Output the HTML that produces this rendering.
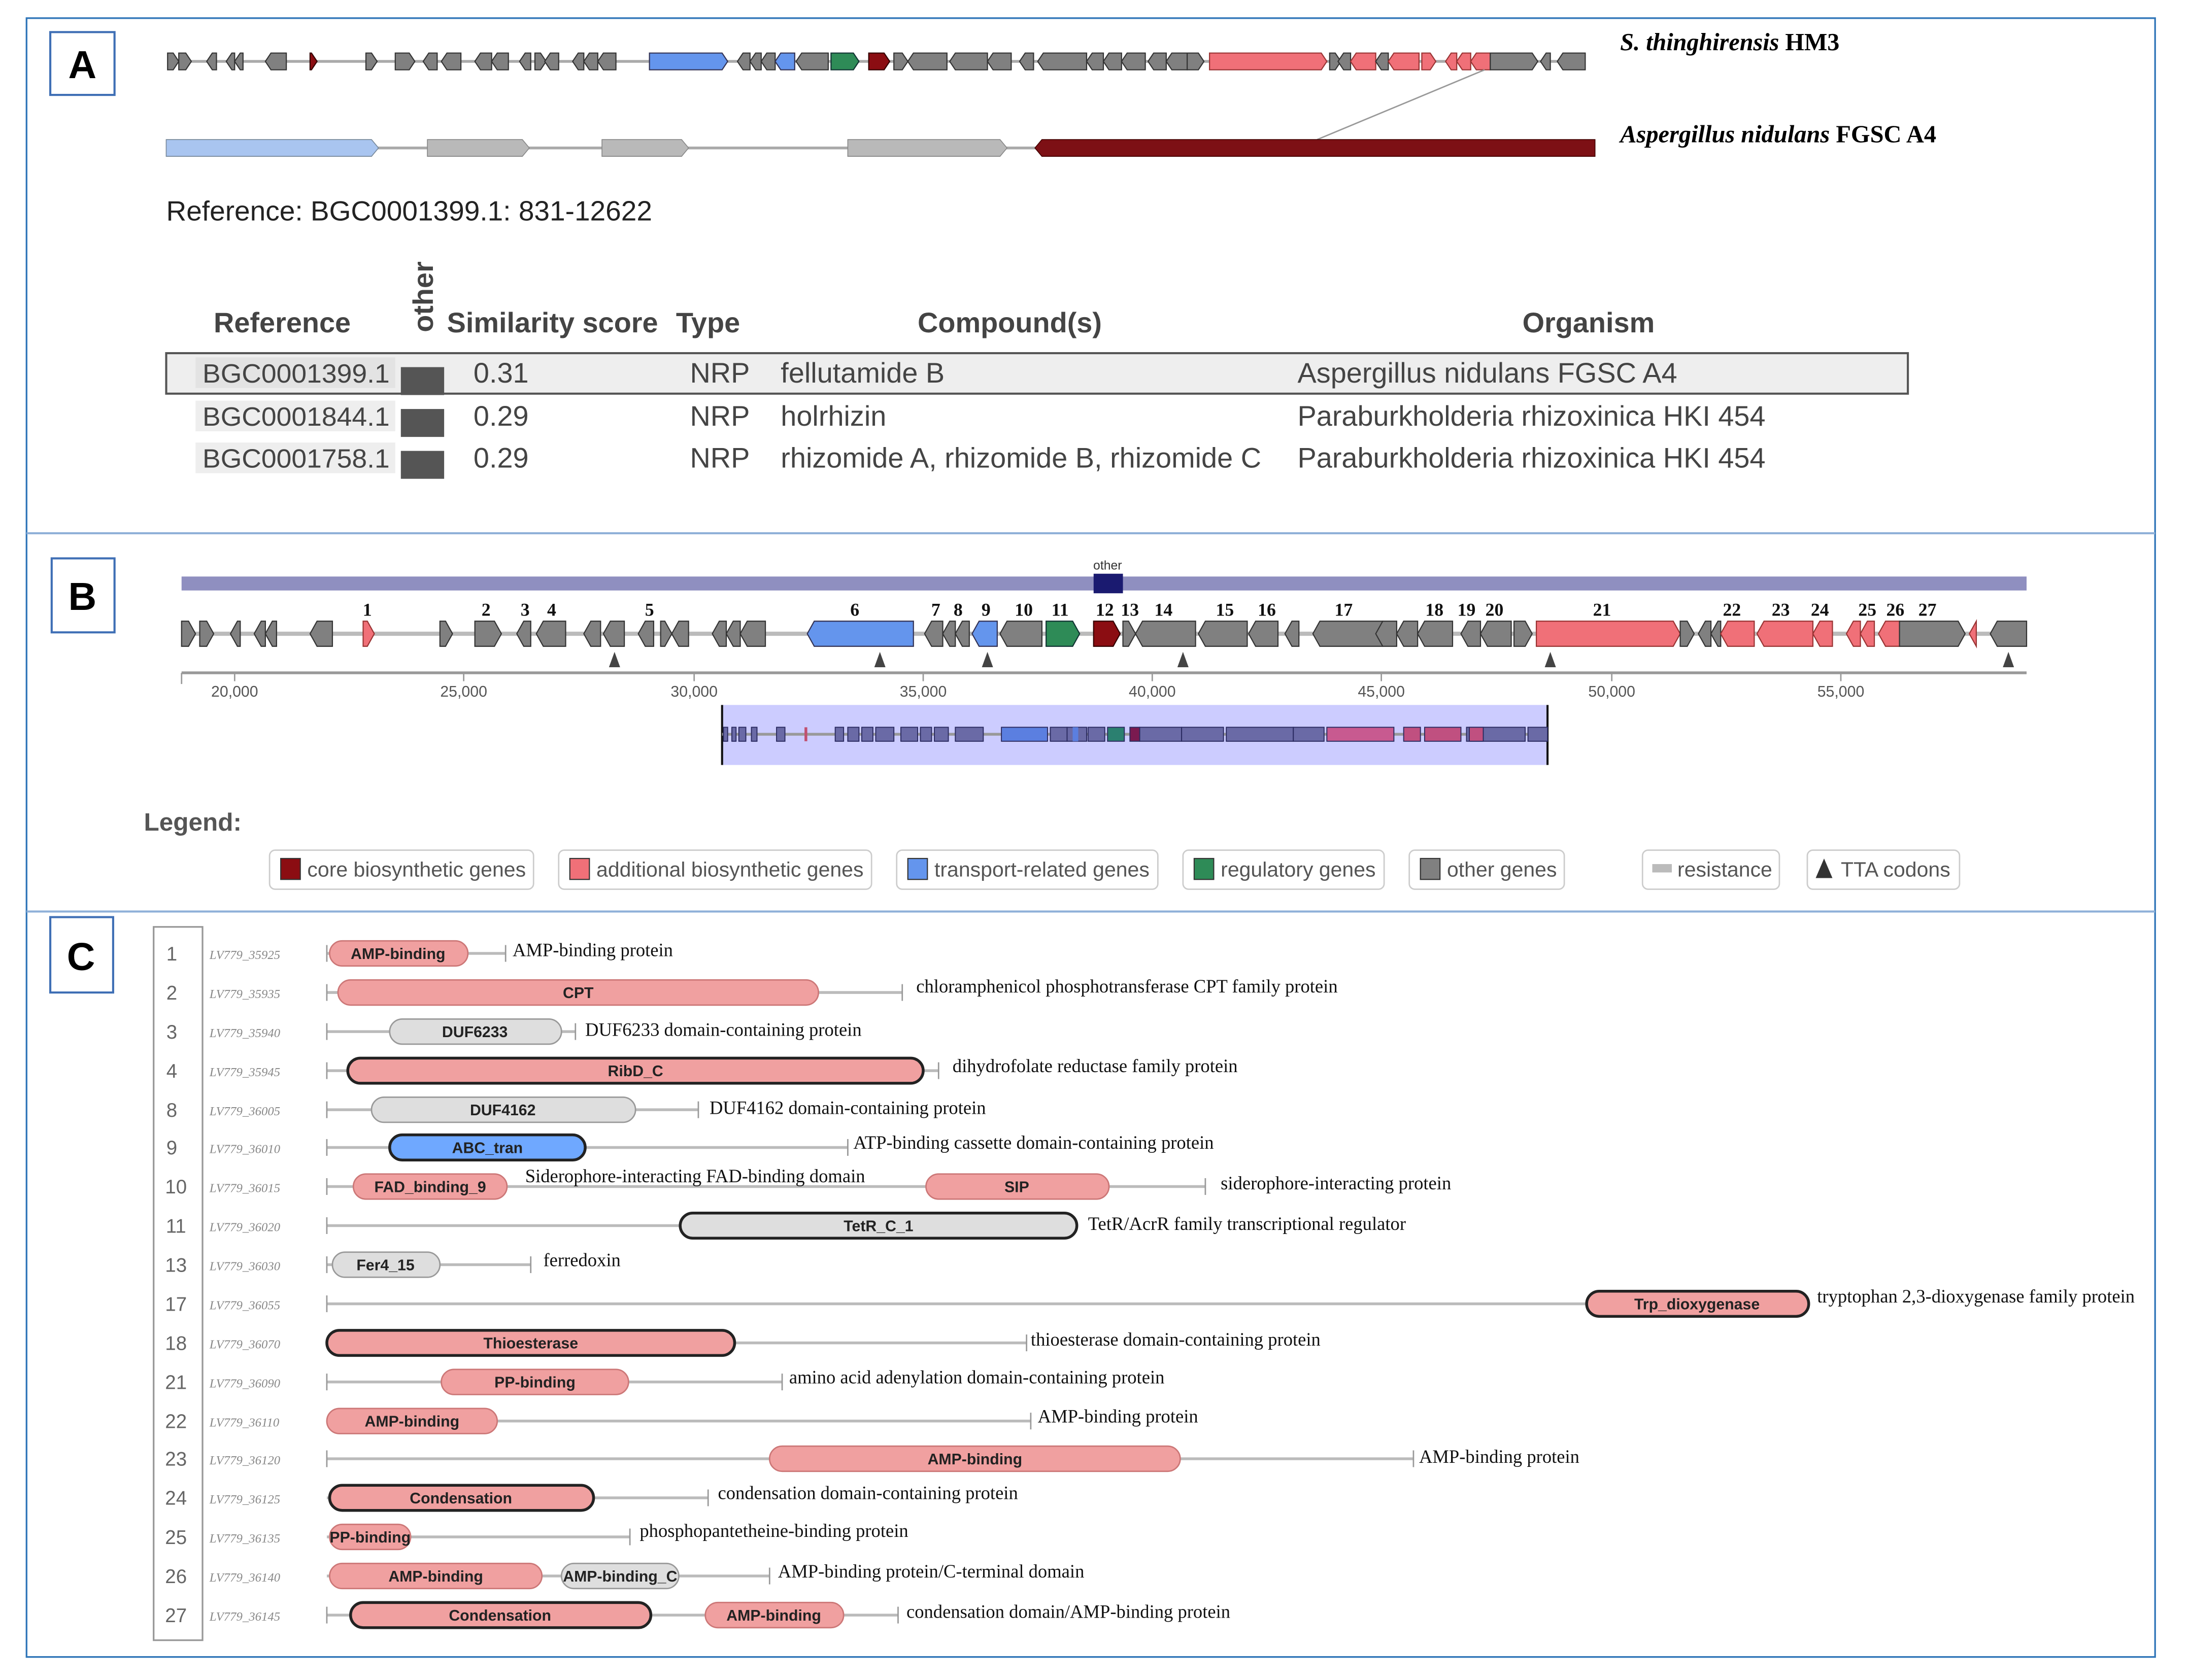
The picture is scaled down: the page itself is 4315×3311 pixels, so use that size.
<!DOCTYPE html>
<html><head><meta charset="utf-8"><style>
html,body{margin:0;padding:0;background:#fff;}
svg{display:block;}
.g{fill:#808080;stroke:#333;stroke-width:.8}
.p{fill:#f07078;stroke:#933;stroke-width:.8}
.bl{fill:#6495ed;stroke:#335;stroke-width:.8}
.gr{fill:#2e8b57;stroke:#133;stroke-width:.8}
.dr{fill:#8b0d12;stroke:#300;stroke-width:.8}
.sans{font-family:"Liberation Sans",Arial,sans-serif}
.ser{font-family:"Liberation Serif","Times New Roman",serif}
.pk{fill:#f0a0a0;stroke:#c77;stroke-width:1}
.pkb{fill:#f0a0a0;stroke:#222;stroke-width:2}
.gy{fill:#dedede;stroke:#999;stroke-width:1}
.gyb{fill:#dedede;stroke:#222;stroke-width:2}
.bb{fill:#6fa8ff;stroke:#222;stroke-width:2}
.dl{font:bold 11px "Liberation Sans",Arial,sans-serif;fill:#222;text-anchor:middle}
.ds{font:13.3px "Liberation Serif",serif;fill:#111}
.ln{stroke:#bbb;stroke-width:2}
.rn{font:14px "Liberation Sans",sans-serif;fill:#666;text-anchor:middle}
.lt{font:italic 9px "Liberation Serif",serif;fill:#888}
.lg{fill:#fff;stroke:#ccc;stroke-width:1}
.lgt{font:14.9px "Liberation Sans",sans-serif;fill:#555}
.nb{font:bold 13px "Liberation Serif",serif;fill:#111;text-anchor:middle}
.th{font:bold 20.3px "Liberation Sans",sans-serif;fill:#444}
.td{font:20.3px "Liberation Sans",sans-serif;fill:#444}
.bgc{font:19px "Liberation Sans",sans-serif;fill:#444}
</style></head><body>
<svg width="4315" height="3311" viewBox="0 0 1568 1203.5" preserveAspectRatio="none" xmlns="http://www.w3.org/2000/svg">
<rect width="1568" height="1204" fill="#fff"/>
<!-- frame -->
<rect x="19" y="13" width="1524" height="1174" fill="none" stroke="#2f75b8" stroke-width="1.2"/>
<line x1="19" y1="382" x2="1543" y2="382" stroke="#8fb0d8" stroke-width="1.5"/>
<line x1="19" y1="653" x2="1543" y2="653" stroke="#8fb0d8" stroke-width="1.5"/>
<rect x="36" y="23" width="46" height="45" fill="#fff" stroke="#3f6fb5" stroke-width="1.5"/>
<text x="59" y="56" class="sans" font-size="28" font-weight="bold" text-anchor="middle">A</text>
<rect x="37" y="400" width="45" height="53" fill="#fff" stroke="#3f6fb5" stroke-width="1.5"/>
<text x="59" y="437" class="sans" font-size="28" font-weight="bold" text-anchor="middle">B</text>
<rect x="36" y="657" width="45" height="54" fill="#fff" stroke="#3f6fb5" stroke-width="1.5"/>
<text x="58" y="695" class="sans" font-size="28" font-weight="bold" text-anchor="middle">C</text>

<!-- A top track -->
<line x1="120" y1="44" x2="1135" y2="44" stroke="#aaa" stroke-width="2"/>
<g>
<path class="g" d="M120 38H124l4 6l-4 6H120Z"/><path class="g" d="M128 38H133l4 6l-4 6H128Z"/>
<path class="g" d="M155 38H152l-4 6l4 6H155Z"/><path class="g" d="M168 38H166l-4 6l4 6H168Z"/><path class="g" d="M174 38H172l-4 6l4 6H174Z"/>
<path class="g" d="M205 38H194l-4 6l4 6H205Z"/><path class="dr" d="M222 38H223l4 6l-4 6H222Z"/>
<path class="g" d="M262 38H266l4 6l-4 6H262Z"/><path class="g" d="M283 38H293l4 6l-4 6H283Z"/>
<path class="g" d="M313 38H307l-4 6l4 6H313Z"/><path class="g" d="M330 38H320l-4 6l4 6H330Z"/>
<path class="g" d="M352 38H344l-4 6l4 6H352Z"/><path class="g" d="M364 38H356l-4 6l4 6H364Z"/>
<path class="g" d="M380 38H376l-4 6l4 6H380Z"/><path class="g" d="M383 38H387l4 6l-4 6H383Z"/>
<path class="g" d="M400 38H394l-4 6l4 6H400Z"/><path class="g" d="M418 38H414l-4 6l4 6H418Z"/>
<path class="g" d="M428 38H422l-4 6l4 6H428Z"/><path class="g" d="M441 38H432l-4 6l4 6H441Z"/>
<path class="bl" d="M465 38H517l4 6l-4 6H465Z"/>
<path class="g" d="M537 38H532l-4 6l4 6H537Z"/><path class="g" d="M545 38H541l-4 6l4 6H545Z"/><path class="g" d="M555 38H549l-4 6l4 6H555Z"/>
<path class="bl" d="M569 38H559l-4 6l4 6H569Z"/><path class="g" d="M593 38H574l-4 6l4 6H593Z"/>
<path class="gr" d="M595 38H611l4 6l-4 6H595Z"/><path class="dr" d="M622 38H633l4 6l-4 6H622Z"/>
<path class="g" d="M640 38H646l4 6l-4 6H640Z"/><path class="g" d="M678 38H654l-4 6l4 6H678Z"/>
<path class="g" d="M707 38H684l-4 6l4 6H707Z"/><path class="g" d="M724 38H711l-4 6l4 6H724Z"/>
<path class="g" d="M740 38H734l-4 6l4 6H740Z"/><path class="g" d="M778 38H747l-4 6l4 6H778Z"/>
<path class="g" d="M790 38H782l-4 6l4 6H790Z"/><path class="g" d="M803 38H794l-4 6l4 6H803Z"/>
<path class="g" d="M820 38H807l-4 6l4 6H820Z"/><path class="g" d="M835 38H826l-4 6l4 6H835Z"/>
<path class="g" d="M850 38H839l-4 6l4 6H850Z"/><path class="g" d="M850 38H858l4 6l-4 6H850Z"/>
<path class="p" d="M866 38H946l4 6l-4 6H866Z"/><path class="g" d="M952 38H956l4 6l-4 6H952Z"/>
<path class="g" d="M967 38H962l-4 6l4 6H967Z"/><path class="p" d="M985 38H971l-4 6l4 6H985Z"/>
<path class="g" d="M994 38H989l-4 6l4 6H994Z"/><path class="p" d="M1016 38H998l-4 6l4 6H1016Z"/>
<path class="p" d="M1018 38H1024l4 6l-4 6H1018Z"/><path class="p" d="M1043 38H1039l-4 6l4 6H1043Z"/>
<path class="p" d="M1053 38H1047l-4 6l4 6H1053Z"/><path class="p" d="M1067 38H1057l-4 6l4 6H1067Z"/>
<path class="g" d="M1067 38H1097l4 6l-4 6H1067Z"/><path class="g" d="M1110 38H1107l-4 6l4 6H1110Z"/>
<path class="g" d="M1135 38H1119l-4 6l4 6H1135Z"/>
</g>
<text x="1160" y="36" class="ser" font-size="17.5" font-weight="bold" font-style="italic">S. thinghirensis <tspan font-style="normal">HM3</tspan></text>
<line x1="1063" y1="50" x2="943" y2="100" stroke="#999" stroke-width="1"/>
<!-- A second track -->
<line x1="119" y1="106" x2="1142" y2="106" stroke="#aaa" stroke-width="2"/>
<path d="M119 100H266l5 6l-5 6H119Z" fill="#a9c5f0" stroke="#789" stroke-width=".6"/>
<path d="M306 100H374l5 6l-5 6H306Z" fill="#b9b9b9" stroke="#888" stroke-width=".6"/>
<path d="M431 100H488l5 6l-5 6H431Z" fill="#b9b9b9" stroke="#888" stroke-width=".6"/>
<path d="M607 100H716l5 6l-5 6H607Z" fill="#b9b9b9" stroke="#888" stroke-width=".6"/>
<path d="M1142 100H746l-5 6l5 6H1142Z" fill="#7d1015" stroke="#400" stroke-width=".6"/>
<text x="1160" y="102" class="ser" font-size="17.6" font-weight="bold"><tspan font-style="italic">Aspergillus nidulans</tspan> FGSC A4</text>
<text x="119" y="158" class="sans" font-size="20" fill="#222">Reference: BGC0001399.1: 831-12622</text>

<!-- table -->
<text x="153" y="238" class="th">Reference</text>
<text transform="translate(310,238) rotate(-90)" class="th" font-size="17">other</text>
<text x="320" y="238" class="th">Similarity score</text>
<text x="484" y="238" class="th">Type</text>
<text x="657" y="238" class="th">Compound(s)</text>
<text x="1090" y="238" class="th">Organism</text>
<rect x="119" y="253" width="1247" height="29" fill="#eee" stroke="#555" stroke-width="1.5"/>
<rect x="140" y="256" width="143" height="22" fill="#e3e3e3"/>
<rect x="140" y="287" width="143" height="22" fill="#eee"/>
<rect x="140" y="317" width="143" height="22" fill="#eee"/>
<rect x="287" y="263" width="31" height="20" fill="#555"/>
<rect x="287" y="293" width="31" height="20" fill="#555"/>
<rect x="287" y="323" width="31" height="20" fill="#555"/>
<g class="bgc">
<text x="145" y="274" textLength="134" lengthAdjust="spacingAndGlyphs">BGC0001399.1</text>
<text x="145" y="305" textLength="134" lengthAdjust="spacingAndGlyphs">BGC0001844.1</text>
<text x="145" y="335" textLength="134" lengthAdjust="spacingAndGlyphs">BGC0001758.1</text>
</g>
<g class="td">
<text x="339" y="274">0.31</text><text x="494" y="274">NRP</text><text x="559" y="274">fellutamide B</text><text x="929" y="274">Aspergillus nidulans FGSC A4</text>
<text x="339" y="305">0.29</text><text x="494" y="305">NRP</text><text x="559" y="305">holrhizin</text><text x="929" y="305">Paraburkholderia rhizoxinica HKI 454</text>
<text x="339" y="335">0.29</text><text x="494" y="335">NRP</text><text x="559" y="335">rhizomide A, rhizomide B, rhizomide C</text><text x="929" y="335">Paraburkholderia rhizoxinica HKI 454</text>
</g>

<!-- B -->
<rect x="130" y="413" width="1321" height="10" fill="#8f8fc0"/>
<rect x="783" y="411" width="21" height="14" fill="#1a1a70"/>
<text x="793" y="408" class="sans" font-size="9" text-anchor="middle" fill="#333">other</text>
<line x1="130" y1="454" x2="1451" y2="454" stroke="#bbb" stroke-width="3"/>
<g>
<path class="g" d="M130 445H135l5 9l-5 9H130Z"/><path class="g" d="M143 445H148l5 9l-5 9H143Z"/>
<path class="g" d="M172 445H170l-5 9l5 9H172Z"/><path class="g" d="M190 445H187l-5 9l5 9H190Z"/><path class="g" d="M198 445H195l-5 9l5 9H198Z"/>
<path class="g" d="M238 445H227l-5 9l5 9H238Z"/><path class="p" d="M260 445H263l5 9l-5 9H260Z"/>
<path class="g" d="M315 445H319l5 9l-5 9H315Z"/><path class="g" d="M340 445H354l5 9l-5 9H340Z"/>
<path class="g" d="M380 445H375l-5 9l5 9H380Z"/><path class="g" d="M405 445H389l-5 9l5 9H405Z"/>
<path class="g" d="M430 445H423l-5 9l5 9H430Z"/><path class="g" d="M447 445H437l-5 9l5 9H447Z"/>
<path class="g" d="M468 445H462l-5 9l5 9H468Z"/><path class="g" d="M473 445H476l5 9l-5 9H473Z"/>
<path class="g" d="M493 445H486l-5 9l5 9H493Z"/><path class="g" d="M520 445H515l-5 9l5 9H520Z"/>
<path class="g" d="M530 445H525l-5 9l5 9H530Z"/><path class="g" d="M548 445H535l-5 9l5 9H548Z"/>
<path class="bl" d="M654 445H583l-5 9l5 9H654Z"/>
<path class="g" d="M675 445H667l-5 9l5 9H675Z"/><path class="g" d="M684 445H680l-5 9l5 9H684Z"/><path class="g" d="M694 445H689l-5 9l5 9H694Z"/>
<path class="bl" d="M714 445H701l-5 9l5 9H714Z"/><path class="g" d="M746 445H721l-5 9l5 9H746Z"/>
<path class="gr" d="M749 445H768l5 9l-5 9H749Z"/><path class="dr" d="M783 445H797l5 9l-5 9H783Z"/>
<path class="g" d="M804 445H808l5 9l-5 9H804Z"/><path class="g" d="M856 445H818l-5 9l5 9H856Z"/>
<path class="g" d="M893 445H863l-5 9l5 9H893Z"/><path class="g" d="M915 445H899l-5 9l5 9H915Z"/>
<path class="g" d="M930 445H925l-5 9l5 9H930Z"/><path class="g" d="M990 445H945l-5 9l5 9H990Z"/>
<path class="g" d="M1000 445H990l-5 9l5 9H1000Z"/><path class="g" d="M1015 445H1005l-5 9l5 9H1015Z"/>
<path class="g" d="M1040 445H1020l-5 9l5 9H1040Z"/><path class="g" d="M1060 445H1051l-5 9l5 9H1060Z"/>
<path class="g" d="M1082 445H1065l-5 9l5 9H1082Z"/><path class="g" d="M1084 445H1092l5 9l-5 9H1084Z"/>
<path class="p" d="M1100 445H1198l5 9l-5 9H1100Z"/><path class="g" d="M1203 445H1208l5 9l-5 9H1203Z"/>
<path class="g" d="M1225 445H1221l-5 9l5 9H1225Z"/><path class="g" d="M1232 445H1230l-5 9l5 9H1232Z"/>
<path class="p" d="M1256 445H1237l-5 9l5 9H1256Z"/><path class="p" d="M1298 445H1263l-5 9l5 9H1298Z"/>
<path class="p" d="M1312 445H1303l-5 9l5 9H1312Z"/><path class="p" d="M1332 445H1327l-5 9l5 9H1332Z"/>
<path class="p" d="M1342 445H1337l-5 9l5 9H1342Z"/><path class="p" d="M1360 445H1350l-5 9l5 9H1360Z"/>
<path class="g" d="M1360 445H1402l5 9l-5 9H1360Z"/><path class="p" d="M1415 445H1415l-5 9l5 9H1415Z"/>
<path class="g" d="M1451 445H1430l-5 9l5 9H1451Z"/>
</g>
<g class="nb">
<text x="263" y="441">1</text><text x="348" y="441">2</text><text x="376" y="441">3</text><text x="395" y="441">4</text><text x="465" y="441">5</text><text x="612" y="441">6</text><text x="670" y="441">7</text><text x="686" y="441">8</text><text x="706" y="441">9</text><text x="733" y="441">10</text><text x="759" y="441">11</text><text x="791" y="441">12</text><text x="809" y="441">13</text><text x="833" y="441">14</text><text x="877" y="441">15</text><text x="907" y="441">16</text><text x="962" y="441">17</text><text x="1027" y="441">18</text><text x="1050" y="441">19</text><text x="1070" y="441">20</text><text x="1147" y="441">21</text><text x="1240" y="441">22</text><text x="1275" y="441">23</text><text x="1303" y="441">24</text><text x="1337" y="441">25</text><text x="1357" y="441">26</text><text x="1380" y="441">27</text>
</g>
<g fill="#444">
<path d="M440 467l-4 11h8Z"/><path d="M630 467l-4 11h8Z"/><path d="M707 467l-4 11h8Z"/><path d="M847 467l-4 11h8Z"/><path d="M1110 467l-4 11h8Z"/><path d="M1438 467l-4 11h8Z"/>
</g>
<line x1="130" y1="482" x2="1451" y2="482" stroke="#999" stroke-width="2"/>
<g stroke="#999" stroke-width="1"><line x1="130" y1="482" x2="130" y2="490"/><line x1="168" y1="482" x2="168" y2="488"/><line x1="332" y1="482" x2="332" y2="488"/><line x1="497" y1="482" x2="497" y2="488"/><line x1="661" y1="482" x2="661" y2="488"/><line x1="825" y1="482" x2="825" y2="488"/><line x1="989" y1="482" x2="989" y2="488"/><line x1="1154" y1="482" x2="1154" y2="488"/><line x1="1318" y1="482" x2="1318" y2="488"/></g>
<g class="sans" font-size="11" fill="#555" text-anchor="middle">
<text x="168" y="499">20,000</text><text x="332" y="499">25,000</text><text x="497" y="499">30,000</text><text x="661" y="499">35,000</text><text x="825" y="499">40,000</text><text x="989" y="499">45,000</text><text x="1154" y="499">50,000</text><text x="1318" y="499">55,000</text>
</g>
<rect x="517" y="505" width="591" height="43" fill="#ccccff"/>
<line x1="517" y1="505" x2="517" y2="548" stroke="#111" stroke-width="1.5"/><line x1="1108" y1="505" x2="1108" y2="548" stroke="#111" stroke-width="1.5"/>
<line x1="517" y1="526" x2="1108" y2="526" stroke="#999" stroke-width="2"/>
<g fill="#6a6aa6" stroke="#2a2a60" stroke-width=".7">
<rect x="518" y="521" width="3" height="10"/><rect x="524" y="521" width="3" height="10"/><rect x="529" y="521" width="5" height="10"/><rect x="538" y="521" width="4" height="10"/><rect x="556" y="521" width="6" height="10"/>
<rect x="598" y="521" width="6" height="10"/><rect x="607" y="521" width="8" height="10"/><rect x="617" y="521" width="8" height="10"/><rect x="627" y="521" width="13" height="10"/><rect x="645" y="521" width="12" height="10"/><rect x="659" y="521" width="8" height="10"/><rect x="669" y="521" width="10" height="10"/><rect x="684" y="521" width="20" height="10"/>
<rect x="752" y="521" width="12" height="10"/><rect x="764" y="521" width="14" height="10"/><rect x="779" y="521" width="12" height="10"/><rect x="816" y="521" width="30" height="10"/><rect x="846" y="521" width="30" height="10"/><rect x="878" y="521" width="48" height="10"/><rect x="926" y="521" width="22" height="10"/><rect x="1050" y="521" width="42" height="10"/><rect x="1094" y="521" width="14" height="10"/>
</g>
<rect x="576" y="521" width="2" height="10" fill="#c05070"/>
<rect x="717" y="521" width="33" height="10" fill="#5b7fe0" stroke="#2a2a60" stroke-width=".7"/>
<rect x="768" y="521" width="4" height="10" fill="#5b7fe0"/>
<rect x="793" y="521" width="12" height="10" fill="#2b8070" stroke="#2a2a60" stroke-width=".7"/>
<rect x="809" y="521" width="7" height="10" fill="#7a1a50" stroke="#2a2a60" stroke-width=".7"/>
<rect x="950" y="521" width="48" height="10" fill="#c85a90" stroke="#2a2a60" stroke-width=".7"/>
<rect x="1005" y="521" width="12" height="10" fill="#c05080" stroke="#2a2a60" stroke-width=".7"/>
<rect x="1020" y="521" width="26" height="10" fill="#c05080" stroke="#2a2a60" stroke-width=".7"/>
<rect x="1052" y="521" width="10" height="10" fill="#c05080" stroke="#2a2a60" stroke-width=".7"/>

<text x="103" y="595" class="sans" font-size="18" font-weight="bold" fill="#555">Legend:</text>
<g>
<rect class="lg" x="193" y="609" width="189" height="28" rx="4"/><rect x="201" y="615" width="14" height="15" fill="#8b0d12" stroke="#333" stroke-width=".8"/><text x="220" y="628" class="lgt">core biosynthetic genes</text>
<rect class="lg" x="400" y="609" width="224" height="28" rx="4"/><rect x="408" y="615" width="14" height="15" fill="#f07078" stroke="#333" stroke-width=".8"/><text x="427" y="628" class="lgt">additional biosynthetic genes</text>
<rect class="lg" x="642" y="609" width="187" height="28" rx="4"/><rect x="650" y="615" width="14" height="15" fill="#6495ed" stroke="#333" stroke-width=".8"/><text x="669" y="628" class="lgt">transport-related genes</text>
<rect class="lg" x="847" y="609" width="144" height="28" rx="4"/><rect x="855" y="615" width="14" height="15" fill="#2e8b57" stroke="#333" stroke-width=".8"/><text x="874" y="628" class="lgt">regulatory genes</text>
<rect class="lg" x="1009" y="609" width="111" height="28" rx="4"/><rect x="1017" y="615" width="14" height="15" fill="#808080" stroke="#333" stroke-width=".8"/><text x="1036" y="628" class="lgt">other genes</text>
<rect class="lg" x="1176" y="609" width="98" height="28" rx="4"/><rect x="1183" y="619" width="14" height="6" fill="#bbb"/><text x="1201" y="628" class="lgt">resistance</text>
<rect class="lg" x="1294" y="609" width="109" height="28" rx="4"/><path d="M1306 615l-6 14h12Z" fill="#333"/><text x="1318" y="628" class="lgt">TTA codons</text>
</g>

<!-- C -->
<rect x="110" y="664" width="35" height="511" fill="none" stroke="#999" stroke-width="1.2"/>
<g class="rn">
<text x="123" y="688">1</text><text x="123" y="716">2</text><text x="123" y="744">3</text><text x="123" y="772">4</text><text x="123" y="800">8</text><text x="123" y="827">9</text><text x="126" y="855">10</text><text x="126" y="883">11</text><text x="126" y="911">13</text><text x="126" y="939">17</text><text x="126" y="967">18</text><text x="126" y="995">21</text><text x="126" y="1023">22</text><text x="126" y="1050">23</text><text x="126" y="1078">24</text><text x="126" y="1106">25</text><text x="126" y="1134">26</text><text x="126" y="1162">27</text>
</g>
<g class="lt">
<text x="150" y="687">LV779_35925</text><text x="150" y="715">LV779_35935</text><text x="150" y="743">LV779_35940</text><text x="150" y="771">LV779_35945</text><text x="150" y="799">LV779_36005</text><text x="150" y="826">LV779_36010</text><text x="150" y="854">LV779_36015</text><text x="150" y="882">LV779_36020</text><text x="150" y="910">LV779_36030</text><text x="150" y="938">LV779_36055</text><text x="150" y="966">LV779_36070</text><text x="150" y="994">LV779_36090</text><text x="150" y="1022">LV779_36110</text><text x="150" y="1049">LV779_36120</text><text x="150" y="1077">LV779_36125</text><text x="150" y="1105">LV779_36135</text><text x="150" y="1133">LV779_36140</text><text x="150" y="1161">LV779_36145</text>
</g>
<g class="ln">
<line x1="234" y1="683" x2="362" y2="683"/><line x1="234" y1="711" x2="646" y2="711"/><line x1="234" y1="739" x2="412" y2="739"/><line x1="234" y1="767" x2="672" y2="767"/><line x1="234" y1="795" x2="500" y2="795"/><line x1="234" y1="822" x2="607" y2="822"/><line x1="234" y1="850" x2="863" y2="850"/><line x1="234" y1="878" x2="771" y2="878"/><line x1="234" y1="906" x2="380" y2="906"/><line x1="234" y1="934" x2="1295" y2="934"/><line x1="234" y1="962" x2="735" y2="962"/><line x1="234" y1="990" x2="560" y2="990"/><line x1="234" y1="1018" x2="738" y2="1018"/><line x1="234" y1="1045" x2="1012" y2="1045"/><line x1="234" y1="1073" x2="507" y2="1073"/><line x1="234" y1="1101" x2="451" y2="1101"/><line x1="234" y1="1129" x2="551" y2="1129"/><line x1="234" y1="1157" x2="643" y2="1157"/>
</g>
<g stroke="#999" stroke-width="1">
<line x1="234" y1="677" x2="234" y2="689"/><line x1="362" y1="677" x2="362" y2="689"/>
<line x1="234" y1="705" x2="234" y2="717"/><line x1="646" y1="705" x2="646" y2="717"/>
<line x1="234" y1="733" x2="234" y2="745"/><line x1="412" y1="733" x2="412" y2="745"/>
<line x1="234" y1="761" x2="234" y2="773"/><line x1="672" y1="761" x2="672" y2="773"/>
<line x1="234" y1="789" x2="234" y2="801"/><line x1="500" y1="789" x2="500" y2="801"/>
<line x1="234" y1="816" x2="234" y2="828"/><line x1="607" y1="816" x2="607" y2="828"/>
<line x1="234" y1="844" x2="234" y2="856"/><line x1="863" y1="844" x2="863" y2="856"/>
<line x1="234" y1="872" x2="234" y2="884"/>
<line x1="234" y1="900" x2="234" y2="912"/><line x1="380" y1="900" x2="380" y2="912"/>
<line x1="234" y1="928" x2="234" y2="940"/>
<line x1="735" y1="956" x2="735" y2="968"/>
<line x1="234" y1="984" x2="234" y2="996"/><line x1="560" y1="984" x2="560" y2="996"/>
<line x1="738" y1="1012" x2="738" y2="1024"/>
<line x1="234" y1="1039" x2="234" y2="1051"/><line x1="1012" y1="1039" x2="1012" y2="1051"/>
<line x1="507" y1="1067" x2="507" y2="1079"/>
<line x1="451" y1="1095" x2="451" y2="1107"/>
<line x1="551" y1="1123" x2="551" y2="1135"/>
<line x1="234" y1="1151" x2="234" y2="1163"/><line x1="643" y1="1151" x2="643" y2="1163"/>
</g>
<!-- pills -->
<rect class="pk" x="236" y="674" width="99" height="18" rx="9"/><text class="dl" x="285" y="687">AMP-binding</text>
<rect class="pk" x="242" y="702" width="344" height="18" rx="9"/><text class="dl" x="414" y="715">CPT</text>
<rect class="gy" x="279" y="730" width="123" height="18" rx="9"/><text class="dl" x="340" y="743">DUF6233</text>
<rect class="pkb" x="249" y="758" width="412" height="18" rx="9"/><text class="dl" x="455" y="771">RibD_C</text>
<rect class="gy" x="266" y="786" width="189" height="18" rx="9"/><text class="dl" x="360" y="799">DUF4162</text>
<rect class="bb" x="279" y="813" width="140" height="18" rx="9"/><text class="dl" x="349" y="826">ABC_tran</text>
<rect class="pk" x="253" y="841" width="110" height="18" rx="9"/><text class="dl" x="308" y="854">FAD_binding_9</text>
<rect class="pk" x="663" y="841" width="131" height="18" rx="9"/><text class="dl" x="728" y="854">SIP</text>
<rect class="gyb" x="487" y="869" width="284" height="18" rx="9"/><text class="dl" x="629" y="882">TetR_C_1</text>
<rect class="gy" x="238" y="897" width="77" height="18" rx="9"/><text class="dl" x="276" y="910">Fer4_15</text>
<rect class="pkb" x="1136" y="925" width="159" height="18" rx="9"/><text class="dl" x="1215" y="938">Trp_dioxygenase</text>
<rect class="pkb" x="234" y="953" width="292" height="18" rx="9"/><text class="dl" x="380" y="966">Thioesterase</text>
<rect class="pk" x="316" y="981" width="134" height="18" rx="9"/><text class="dl" x="383" y="994">PP-binding</text>
<rect class="pk" x="234" y="1009" width="122" height="18" rx="9"/><text class="dl" x="295" y="1022">AMP-binding</text>
<rect class="pk" x="551" y="1036" width="294" height="18" rx="9"/><text class="dl" x="698" y="1049">AMP-binding</text>
<rect class="pkb" x="236" y="1064" width="189" height="18" rx="9"/><text class="dl" x="330" y="1077">Condensation</text>
<rect class="pk" x="236" y="1092" width="58" height="18" rx="9"/><text class="dl" x="265" y="1105">PP-binding</text>
<rect class="pk" x="236" y="1120" width="152" height="18" rx="9"/><text class="dl" x="312" y="1133">AMP-binding</text>
<rect class="gy" x="402" y="1120" width="84" height="18" rx="9"/><text class="dl" x="444" y="1133">AMP-binding_C</text>
<rect class="pkb" x="251" y="1148" width="215" height="18" rx="9"/><text class="dl" x="358" y="1161">Condensation</text>
<rect class="pk" x="505" y="1148" width="99" height="18" rx="9"/><text class="dl" x="554" y="1161">AMP-binding</text>
<!-- descriptions -->
<g class="ds">
<text x="367" y="685">AMP-binding protein</text>
<text x="656" y="711">chloramphenicol phosphotransferase CPT family protein</text>
<text x="419" y="742">DUF6233 domain-containing protein</text>
<text x="682" y="768">dihydrofolate reductase family protein</text>
<text x="508" y="798">DUF4162 domain-containing protein</text>
<text x="611" y="823">ATP-binding cassette domain-containing protein</text>
<text x="376" y="847">Siderophore-interacting FAD-binding domain</text>
<text x="874" y="852">siderophore-interacting protein</text>
<text x="779" y="881">TetR/AcrR family transcriptional regulator</text>
<text x="389" y="907">ferredoxin</text>
<text x="1301" y="933">tryptophan 2,3-dioxygenase family protein</text>
<text x="738" y="964">thioesterase domain-containing protein</text>
<text x="565" y="991">amino acid adenylation domain-containing protein</text>
<text x="743" y="1019">AMP-binding protein</text>
<text x="1016" y="1048">AMP-binding protein</text>
<text x="514" y="1074">condensation domain-containing protein</text>
<text x="458" y="1101">phosphopantetheine-binding  protein</text>
<text x="557" y="1130">AMP-binding protein/C-terminal domain</text>
<text x="649" y="1159">condensation domain/AMP-binding protein</text>
</g>
</svg>
</body></html>
